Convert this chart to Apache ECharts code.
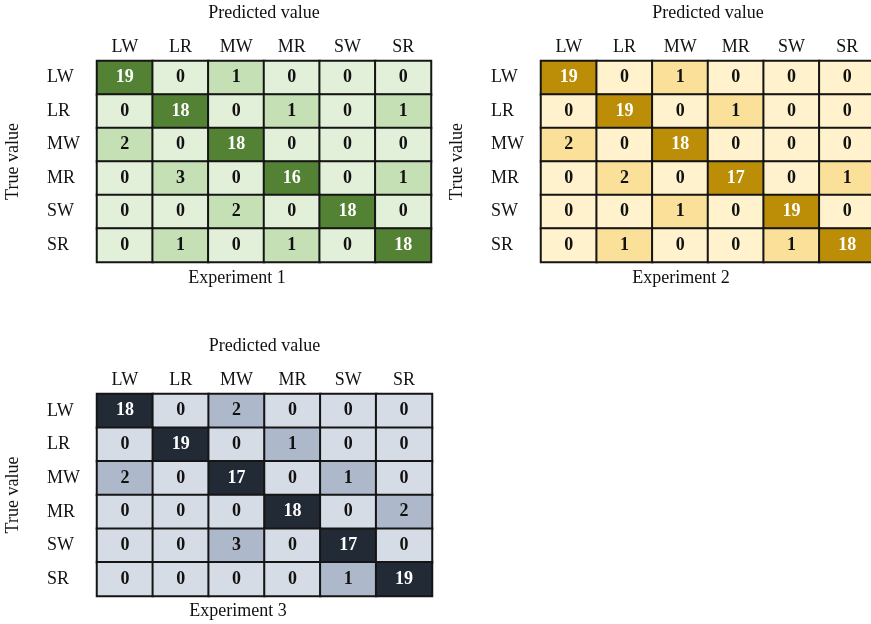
<!DOCTYPE html>
<html>
<head>
<meta charset="utf-8">
<style>
  html, body { margin: 0; padding: 0; background: #ffffff; }
  #chart { width: 871px; height: 624px; }
</style>
<script src="https://cdn.jsdelivr.net/npm/echarts@6/dist/echarts.min.js"></script>
</head>
<body>
<div id="chart"></div>
<script>
// Class labels (predicted = columns, true = rows)
const classes = ['LW', 'LR', 'MW', 'MR', 'SW', 'SR'];

// Confusion matrices, rows = true class, columns = predicted class
const exp1 = [
  [19, 0, 1, 0, 0, 0],
  [0, 18, 0, 1, 0, 1],
  [2, 0, 18, 0, 0, 0],
  [0, 3, 0, 16, 0, 1],
  [0, 0, 2, 0, 18, 0],
  [0, 1, 0, 1, 0, 18]
];
const exp2 = [
  [19, 0, 1, 0, 0, 0],
  [0, 19, 0, 1, 0, 0],
  [2, 0, 18, 0, 0, 0],
  [0, 2, 0, 17, 0, 1],
  [0, 0, 1, 0, 19, 0],
  [0, 1, 0, 0, 1, 18]
];
const exp3 = [
  [18, 0, 2, 0, 0, 0],
  [0, 19, 0, 1, 0, 0],
  [2, 0, 17, 0, 1, 0],
  [0, 0, 0, 18, 0, 2],
  [0, 0, 3, 0, 17, 0],
  [0, 0, 0, 0, 1, 19]
];
const titles = ['Experiment 1', 'Experiment 2', 'Experiment 3'];

// Colour ramps: [zero, few, many]
const palettes = [
  ['#e2f0d9', '#c5e0b4', '#548235'],
  ['#fff2cc', '#fbe09a', '#bc8e08'],
  ['#d6dce5', '#adb9ca', '#222a35']
];

const serif = '"Liberation Serif", "Times New Roman", serif';
const panels = [
  { left: 97, top: 61, width: 334, height: 201, titleX: 237, titleY: 278 },
  { left: 541, top: 61, width: 334, height: 201, titleX: 681, titleY: 278 },
  { left: 97, top: 394, width: 335, height: 202, titleX: 238, titleY: 611 }
];
const matrices = [exp1, exp2, exp3];

const grids = [], xAxes = [], yAxes = [], series = [], visualMaps = [], graphics = [];

matrices.forEach((m, i) => {
  const p = panels[i];
  grids.push({
    left: p.left, top: p.top, width: p.width, height: p.height,
    containLabel: false, outerBoundsMode: 'none'
  });
  xAxes.push({
    type: 'category', gridIndex: i, data: classes, position: 'top',
    axisLine: { show: false }, axisTick: { show: false }, splitLine: { show: false },
    axisLabel: { color: '#111', fontFamily: serif, fontSize: 18, margin: 5 },
    name: 'Predicted value', nameLocation: 'middle', nameGap: 39,
    nameTextStyle: { color: '#111', fontFamily: serif, fontSize: 18 }
  });
  yAxes.push({
    type: 'category', gridIndex: i, data: classes, inverse: true,
    axisLine: { show: false }, axisTick: { show: false }, splitLine: { show: false },
    axisLabel: { color: '#111', fontFamily: serif, fontSize: 18, align: 'left', margin: 50 },
    name: 'True value', nameLocation: 'middle', nameGap: 75, nameRotate: 90,
    nameTextStyle: { color: '#111', fontFamily: serif, fontSize: 18 }
  });
  const data = [];
  m.forEach((row, r) => row.forEach((v, c) => {
    data.push({ value: [c, r, v], label: { color: v >= 10 ? '#ffffff' : '#111111' } });
  }));
  series.push({
    type: 'heatmap', xAxisIndex: i, yAxisIndex: i, data: data,
    itemStyle: { borderColor: '#151515', borderWidth: 2 },
    label: { show: true, fontFamily: serif, fontSize: 18, fontWeight: 'bold' },
    emphasis: { disabled: true }
  });
  const pal = palettes[i];
  visualMaps.push({
    type: 'piecewise', show: false, seriesIndex: i, dimension: 2,
    pieces: [
      { value: 0, color: pal[0] },
      { gte: 1, lt: 10, color: pal[1] },
      { gte: 10, color: pal[2] }
    ]
  });
  graphics.push({
    type: 'text', x: p.titleX, y: p.titleY,
    style: { text: titles[i], font: '18px ' + serif, fill: '#111', textAlign: 'center', textVerticalAlign: 'middle' }
  });
});

const chart = echarts.init(document.getElementById('chart'));
chart.setOption({
  backgroundColor: '#ffffff',
  animation: false,
  grid: grids,
  xAxis: xAxes,
  yAxis: yAxes,
  visualMap: visualMaps,
  series: series,
  graphic: graphics
});
</script>
</body>
</html>
